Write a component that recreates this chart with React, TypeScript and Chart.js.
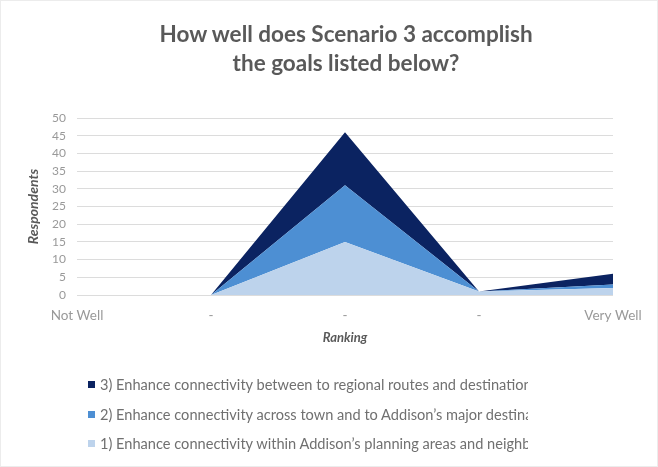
import React, { useEffect, useRef } from "react";
import { Chart, registerables } from "chart.js";

Chart.register(...registerables);

const categories = ["Not Well", "-", "-", "-", "Very Well"];
const goal1 = [0, 0, 15, 1, 2];
const goal2 = [0, 0, 16, 0, 1];
const goal3 = [0, 0, 15, 0, 3];

const label1 = "1) Enhance connectivity within Addison\u2019s planning areas and neighborhoods";
const label2 = "2) Enhance connectivity across town and to Addison\u2019s major destinations";
const label3 = "3) Enhance connectivity between to regional routes and destinations";

const titleLines = ["How well does Scenario 3 accomplish", "the goals listed below?"];

const colLight = "#bdd3ec";
const colMid = "#4d8fd3";
const colDark = "#0b2361";

const FONT = "Lato, 'Open Sans', sans-serif";

export default function App() {
  const ref = useRef<HTMLCanvasElement | null>(null);

  useEffect(() => {
    const canvas = ref.current;
    if (!canvas) return;
    const chart = new Chart(canvas, {
      type: "line",
      data: {
        labels: categories,
        datasets: [
          { label: label1, data: goal1, backgroundColor: colLight, borderWidth: 0, fill: "origin", pointRadius: 0, tension: 0 },
          { label: label2, data: goal2, backgroundColor: colMid, borderWidth: 0, fill: "-1", pointRadius: 0, tension: 0 },
          { label: label3, data: goal3, backgroundColor: colDark, borderWidth: 0, fill: "-1", pointRadius: 0, tension: 0 },
        ],
      },
      options: {
        responsive: false,
        animation: false,
        layout: { padding: { left: 0, right: 45, top: 118, bottom: 112 } },
        plugins: {
          legend: { display: false },
          title: { display: false },
          tooltip: { enabled: false },
        },
        scales: {
          x: {
            offset: false,
            grid: { display: false, drawTicks: false },
            border: { display: false },
            ticks: { color: "#999999", font: { family: FONT, size: 13.5 }, padding: 13, maxRotation: 0, autoSkip: false },
            title: {
              display: true,
              text: "Ranking",
              color: "#595959",
              font: { family: FONT, size: 13, weight: "bold", style: "italic" },
              padding: { top: 0, bottom: 9 },
            },
            afterFit: (s: any) => { s.height = 60; },
          },
          y: {
            stacked: true,
            min: 0,
            max: 50,
            ticks: { stepSize: 5, color: "#999999", font: { family: FONT, size: 12 }, padding: 11 },
            grid: { color: "#dcdcdc", lineWidth: 1, drawTicks: false },
            border: { display: false },
            title: {
              display: true,
              text: "Respondents",
              color: "#595959",
              font: { family: FONT, size: 14, weight: "bold", style: "italic" },
              padding: { top: 25, bottom: 0 },
            },
            afterFit: (s: any) => { s.width = 77; },
          },
        },
      },
    });
    return () => chart.destroy();
  }, []);

  const legendItems = [
    { label: label3, color: colDark, y: 384 },
    { label: label2, color: colMid, y: 414 },
    { label: label1, color: colLight, y: 443 },
  ];

  return (
    <div style={{ position: "fixed", left: 0, top: 0, width: 658, height: 467, background: "#fff", overflow: "hidden" }}>
      <canvas ref={ref} width={658} height={467} style={{ position: "absolute", left: 0, top: 0, width: 658, height: 467 }} />
      <div
        style={{
          position: "absolute", left: 0, top: 19, width: 692, textAlign: "center",
          fontFamily: FONT, fontWeight: "bold", fontSize: 22.5, lineHeight: "29px", color: "#595959",
        }}
      >
        {titleLines.map((t, i) => (<div key={i}>{t}</div>))}
      </div>
      {legendItems.map((it, i) => (
        <div key={i} style={{ position: "absolute", left: 88, top: it.y - 9, width: 440, height: 18, overflow: "hidden", whiteSpace: "nowrap", display: "flex", alignItems: "center" }}>
          <span style={{ display: "inline-block", width: 7, height: 7, background: it.color, marginRight: 5, flex: "none" }} />
          <span style={{ fontFamily: FONT, fontSize: 14.6, color: "#707070" }}>{it.label}</span>
        </div>
      ))}
      <div style={{ position: "absolute", left: 0, top: 0, width: 656, height: 465, border: "1px solid #ececec", pointerEvents: "none" }} />
    </div>
  );
}
